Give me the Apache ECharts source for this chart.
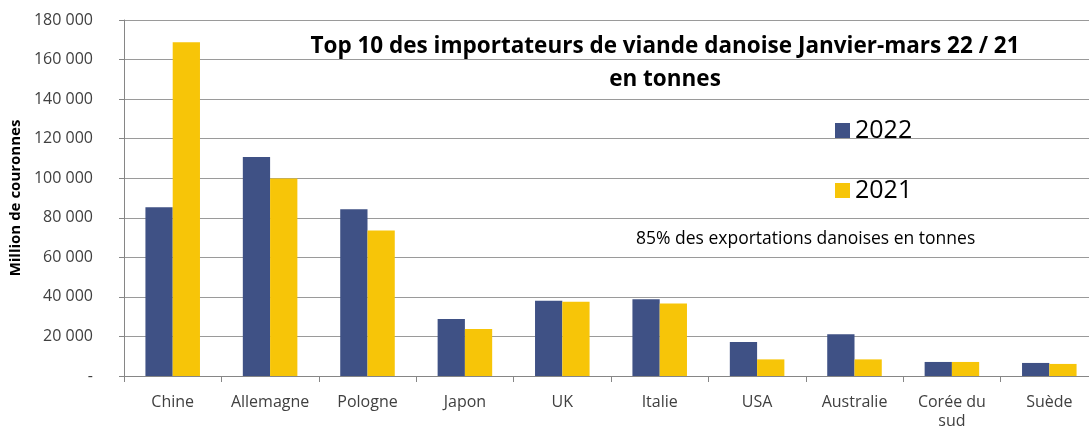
<!DOCTYPE html>
<html>
<head>
<meta charset="utf-8">
<script src="https://cdn.jsdelivr.net/npm/echarts@6/dist/echarts.min.js"></script>
<style>
  html, body { margin: 0; padding: 0; background: #fff; }
  #chart { width: 1089px; height: 430px; }
</style>
</head>
<body>
<div id="chart"></div>
<script>
// pays importateurs
const countries = ['Chine', 'Allemagne', 'Pologne', 'Japon', 'UK', 'Italie', 'USA', 'Australie', 'Corée du\nsud', 'Suède'];
// tonnes, janvier-mars
const values2022 = [85300, 110700, 84300, 28800, 38100, 38800, 17200, 21100, 7100, 6600];
const values2021 = [168700, 99900, 73600, 23800, 37600, 36700, 8400, 8400, 7100, 6100];

const navy = '#3F5185';
const yellow = '#F7C508';
const textColor = '#404040';
const font = '"Open Sans", Lato, sans-serif';

const chart = echarts.init(document.getElementById('chart'));

function fmt(v) {
    if (v === 0) return '-';
    return String(v).replace(/\B(?=(\d{3})+(?!\d))/g, ' ');
}

chart.setOption({
    animation: false,
    textStyle: { fontFamily: font },
    grid: { left: 124, right: -9, top: 20, bottom: 54, outerBoundsMode: 'none' },
    title: {
        text: 'Top 10 des importateurs de viande danoise Janvier-mars 22 / 21\nen tonnes',
        left: 660,
        top: 25,
        textAlign: 'center',
        textStyle: { fontFamily: font, fontSize: 22.5, fontWeight: 'bold', color: '#000', lineHeight: 33 }
    },
    legend: {
        orient: 'vertical',
        left: 830,
        top: 113,
        itemGap: 35,
        itemWidth: 15,
        itemHeight: 15,
        icon: 'rect',
        textStyle: { fontFamily: font, fontSize: 25, color: '#000' },
        data: ['2022', '2021']
    },
    graphic: [{
        type: 'text',
        left: 636,
        top: 230,
        style: { text: '85% des exportations danoises en tonnes', font: '17.5px ' + font, fill: '#000' }
    }],
    xAxis: {
        type: 'category',
        data: countries,
        axisLine: { lineStyle: { color: '#868686' } },
        axisTick: { show: true, length: 6, lineStyle: { color: '#868686' } },
        axisLabel: { color: textColor, fontSize: 16, margin: 17, interval: 0, lineHeight: 19 }
    },
    yAxis: {
        type: 'value',
        min: 0,
        max: 180000,
        interval: 20000,
        name: 'Million de couronnes',
        nameLocation: 'middle',
        nameGap: 97,
        nameTextStyle: { fontSize: 15, fontWeight: 'bold', color: '#000' },
        axisLine: { show: true, lineStyle: { color: '#868686' } },
        axisTick: { show: true, length: 5, lineStyle: { color: '#868686' } },
        axisLabel: { color: textColor, fontSize: 16, margin: 31, formatter: fmt },
        splitLine: { lineStyle: { color: '#9A9A9A' } }
    },
    series: [
        {
            name: '2022', type: 'bar', data: values2022,
            itemStyle: { color: navy }, barGap: '0%', barCategoryGap: '44%'
        },
        {
            name: '2021', type: 'bar', data: values2021,
            itemStyle: { color: yellow }, barGap: '0%', barCategoryGap: '44%'
        }
    ]
});
</script>
</body>
</html>
